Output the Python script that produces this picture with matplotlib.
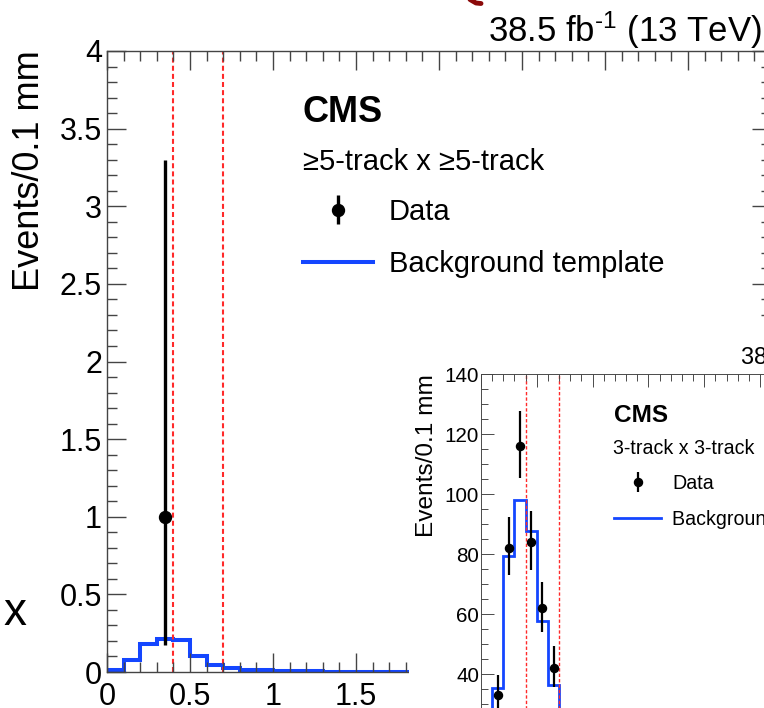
import numpy as np
import matplotlib
matplotlib.use("Agg")
import matplotlib.pyplot as plt
from matplotlib.ticker import MultipleLocator, FuncFormatter
from matplotlib.patches import Rectangle
from matplotlib.lines import Line2D

plt.rcParams.update({
    'font.family': ['Liberation Sans', 'DejaVu Sans'],
    'mathtext.fontset': 'custom',
    'mathtext.rm': 'Liberation Sans',
    'mathtext.default': 'regular',
    'xtick.direction': 'in',
    'ytick.direction': 'in',
    'xtick.top': True,
    'ytick.right': True,
})

# ---- datos: panel principal (>=5-track x >=5-track) ----
bin_edges = np.linspace(0.0, 2.0, 21)
bkg_main = [0.015, 0.08, 0.18, 0.21, 0.205, 0.105, 0.048, 0.028, 0.016, 0.012,
            0.008, 0.005, 0.004, 0.003, 0.002, 0.002, 0.001, 0.001, 0.001, 0.001]
data_main_x = [0.35]
data_main_y = [1.0]
data_main_lo = [0.173]   # extremo inferior de la barra
data_main_hi = [3.30]    # extremo superior de la barra

# ---- datos: panel pequeño (3-track x 3-track) ----
bkg_inset = [12, 35.2, 79.4, 98, 87.8, 57.6, 36.3, 22, 13, 8,
             5, 3, 2, 1.5, 1, 0.8, 0.5, 0.4, 0.3, 0.2]
data_inset_x = [0.05, 0.15, 0.25, 0.35, 0.45, 0.55, 0.65, 0.75]
data_inset_y = [8, 33, 82, 116, 84, 62, 42, 20]
data_inset_lo = [5.2, 27.3, 73.0, 105.2, 74.8, 54.1, 35.6, 15.3]
data_inset_hi = [11.8, 39.7, 92.2, 127.8, 94.2, 70.8, 49.4, 25.6]

cut_lines = [0.4, 0.7]
lumi_text = r'38.5 fb$^{\text{-}1}$ (13 TeV)'

W, H = 764, 708
def fx(px):
    return px / W
def fy(py):
    return 1 - py / H

BLUE = '#1446ff'
RED = '#ff2a2a'
AXC = '#444444'
fmt = FuncFormatter(lambda v, p: f'{v:g}')

fig = plt.figure(figsize=(W / 100, H / 100), dpi=100)


def style_axes(ax, s, ymaj, ymin):
    ax.xaxis.set_major_locator(MultipleLocator(0.5))
    ax.xaxis.set_minor_locator(MultipleLocator(0.1))
    ax.yaxis.set_major_locator(MultipleLocator(ymaj))
    ax.yaxis.set_minor_locator(MultipleLocator(ymin))
    ax.xaxis.set_major_formatter(fmt)
    ax.yaxis.set_major_formatter(fmt)
    ax.tick_params(which='both', top=True, right=True, color=AXC, width=1.0 * s)
    ax.tick_params(which='major', length=13.7 * s)
    ax.tick_params(which='minor', length=7.2 * s)
    ax.tick_params(axis='x', labelsize=22 * s, pad=7.5 * s)
    ax.tick_params(axis='y', labelsize=22 * s, pad=3.6 * s)
    for sp in ax.spines.values():
        sp.set_color(AXC)
        sp.set_linewidth(1.0 * s)


# ---------------- panel principal ----------------
ax = fig.add_axes([fx(107), fy(672), (771 - 107) / W, (672 - 51) / H])
ax.set_zorder(0)
ax.set_xlim(0, 4)
ax.set_ylim(0, 4)
style_axes(ax, 1.0, 0.5, 0.1)

ax.stairs(bkg_main, bin_edges, color=BLUE, lw=2.9, baseline=None)
for xc in cut_lines:
    ax.axvline(xc, color=RED, lw=1.5, linestyle=(0, (2.4, 1.5)), zorder=1)
yerr = [np.array(data_main_y) - np.array(data_main_lo),
        np.array(data_main_hi) - np.array(data_main_y)]
h_dat = ax.errorbar(data_main_x, data_main_y, yerr=yerr, fmt='o', color='black',
                    ms=8.6, elinewidth=2.4, capsize=0, zorder=4)

h_line = Line2D([], [], color=BLUE, lw=2.9)
ax.legend([h_dat, h_line], ['Data', 'Background template'],
          loc='upper left', bbox_to_anchor=(fx(303), fy(198)),
          bbox_transform=fig.transFigure, frameon=False, fontsize=21,
          handlelength=2.4, handletextpad=0.55, labelspacing=0.84,
          borderpad=0, borderaxespad=0)

fig.text(fx(303), fy(122), 'CMS', fontsize=26, fontweight='bold', va='baseline')
fig.text(fx(303), fy(170), '≥5-track x ≥5-track', fontsize=21, va='baseline')
fig.text(fx(762), fy(42), lumi_text, fontsize=25, ha='right', va='baseline')
fig.text(fx(29.5), fy(50), 'Events/0.1 mm', fontsize=26, rotation=90,
         ha='center', va='top')
fig.text(fx(15), fy(625), 'x', fontsize=33, ha='center', va='baseline')

# trazo rojo oscuro recortado arriba
fig.add_artist(Line2D([fx(470), fx(476), fx(481)], [fy(-0.5), fy(3), fy(3.5)],
                      color='#8b0a0a', lw=3.5, solid_capstyle='round',
                      transform=fig.transFigure))

# fondo blanco del panel pequeño
fig.add_artist(Rectangle((fx(409), 0), 1 - fx(409), fy(324), facecolor='white',
                         edgecolor='none', transform=fig.transFigure, zorder=2))

# ---------------- panel pequeño ----------------
s = 0.675
axi = fig.add_axes([fx(481), fy(794), (927.4 - 481) / W, (794 - 374) / H])
axi.set_zorder(3)
axi.set_xlim(0, 4)
axi.set_ylim(0, 140)
style_axes(axi, s, 20, 5)
axi.tick_params(axis='y', pad=1.5)

axi.stairs(bkg_inset, bin_edges, color=BLUE, lw=2.0, baseline=None)
for xc in cut_lines:
    axi.axvline(xc, color=RED, lw=1.0, linestyle=(0, (2.4, 1.5)), zorder=1)
yerr_i = [np.array(data_inset_y) - np.array(data_inset_lo),
          np.array(data_inset_hi) - np.array(data_inset_y)]
h_dat_i = axi.errorbar(data_inset_x, data_inset_y, yerr=yerr_i, fmt='o',
                       color='black', ms=5.8, elinewidth=1.6, capsize=0, zorder=4)
h_line_i = Line2D([], [], color=BLUE, lw=2.0)
axi.legend([h_dat_i, h_line_i], ['Data', 'Background template'],
           loc='upper left', bbox_to_anchor=(fx(614), fy(474)),
           bbox_transform=fig.transFigure, frameon=False, fontsize=21 * s,
           handlelength=2.4, handletextpad=0.55, labelspacing=0.84,
           borderpad=0, borderaxespad=0)

fig.text(fx(614), fy(422), 'CMS', fontsize=26 * s, fontweight='bold',
         va='baseline', zorder=5)
fig.text(fx(613), fy(454), '3-track x 3-track', fontsize=21 * s,
         va='baseline', zorder=5)
fig.text(fx(926), fy(365), lumi_text, fontsize=25 * s,
         ha='right', va='baseline', zorder=5)
fig.text(fx(426.6), fy(374), 'Events/0.1 mm', fontsize=26 * s, rotation=90,
         ha='center', va='top', zorder=5)

fig.savefig('out.png', dpi=100, facecolor='white')
